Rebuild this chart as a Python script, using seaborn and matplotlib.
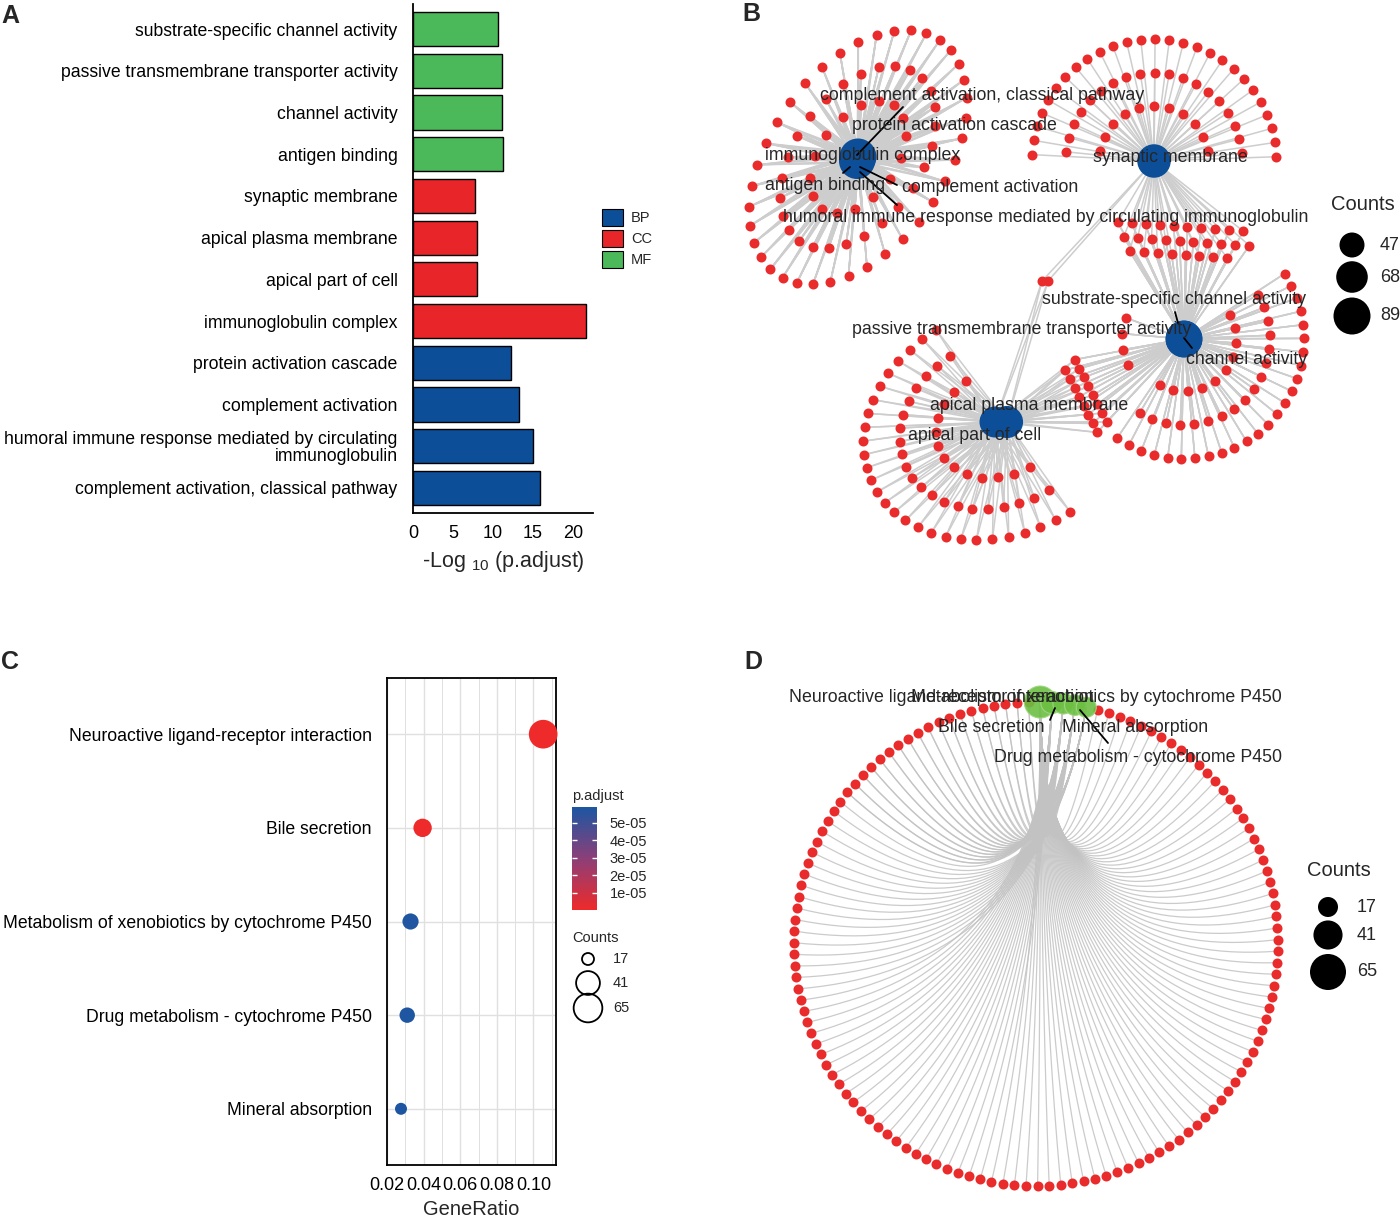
import numpy as np
import pandas as pd
import matplotlib
matplotlib.use("Agg")
import matplotlib.pyplot as plt
import seaborn as sns
from matplotlib.collections import LineCollection
from matplotlib.colors import LinearSegmentedColormap, Normalize
from matplotlib.cm import ScalarMappable
from matplotlib.patches import Patch
from matplotlib.ticker import MultipleLocator, FormatStrFormatter

# ======================= DATA =======================
# Panel A : GO enrichment bar chart
go_terms = ["substrate-specific channel activity",
            "passive transmembrane transporter activity",
            "channel activity",
            "antigen binding",
            "synaptic membrane",
            "apical plasma membrane",
            "apical part of cell",
            "immunoglobulin complex",
            "protein activation cascade",
            "complement activation",
            "humoral immune response mediated by circulating\nimmunoglobulin",
            "complement activation, classical pathway"]
go_ontology = ["MF", "MF", "MF", "MF", "CC", "CC", "CC", "CC", "BP", "BP", "BP", "BP"]
go_neglog10_padj = [10.6, 11.1, 11.1, 11.2, 7.7, 7.95, 7.95, 21.6, 12.2, 13.3, 15.0, 15.9]
ontology_levels = ["BP", "CC", "MF"]

# Panel B : GO cnetplot
cnet_terms = ["complement activation, classical pathway",
              "protein activation cascade",
              "immunoglobulin complex",
              "antigen binding",
              "complement activation",
              "humoral immune response mediated by circulating immunoglobulin",
              "synaptic membrane",
              "substrate-specific channel activity",
              "passive transmembrane transporter activity",
              "channel activity",
              "apical plasma membrane",
              "apical part of cell"]
cnet_hub = ["immuno"] * 6 + ["synaptic"] + ["channel"] * 3 + ["apical"] * 2
cnet_counts = [47, 52, 89, 85, 55, 50, 75, 85, 89, 87, 66, 70]
hub_names = ["immuno", "synaptic", "channel", "apical"]
hub_unique_genes = [80, 57, 56, 62]
shared_pairs = [("synaptic", "channel"), ("apical", "channel"), ("synaptic", "apical")]
shared_gene_counts = [28, 16, 2]
cnet_size_breaks = [47, 68, 89]

# Panel C / D : KEGG enrichment
kegg_terms = ["Neuroactive ligand-receptor interaction",
              "Bile secretion",
              "Metabolism of xenobiotics by cytochrome P450",
              "Drug metabolism - cytochrome P450",
              "Mineral absorption"]
kegg_gene_ratio = [0.1053, 0.0394, 0.0328, 0.0310, 0.0276]
kegg_counts = [65, 24, 20, 19, 17]
kegg_padj = [3.2e-10, 1.5e-07, 5.8e-05, 5.85e-05, 5.9e-05]
kegg_padj_ticks = [1e-05, 2e-05, 3e-05, 4e-05, 5e-05]
kegg_padj_ticklabels = ["1e-05", "2e-05", "3e-05", "4e-05", "5e-05"]
kegg_size_breaks = [17, 41, 65]
# genes of each KEGG term (index of first gene on the circle, number of genes = count)
kegg_gene_start = [0, 65, 106, 107, 89]
kegg_total_genes = 126

# ======================= STYLE / LAYOUT =======================
sns.set_style("white")
plt.rcParams["font.family"] = ["Liberation Sans", "DejaVu Sans"]
plt.rcParams["mathtext.fontset"] = "custom"
plt.rcParams["mathtext.rm"] = "Liberation Sans"
plt.rcParams["mathtext.default"] = "regular"

BLUE = "#0D4E98"
RED = "#E8262A"
GREEN = "#4BB85A"
GENE_RED = "#EA2B2B"
HUB_GREEN = "#6CBF43"
EDGE_GREY = "#CDCDCD"
ont_palette = {"BP": BLUE, "CC": RED, "MF": GREEN}
padj_cmap = LinearSegmentedColormap.from_list("padj", ["#EE2A2A", "#8C3F78", "#1C56A2"])
LABEL_FS = 12.7

W, H = 1400, 1218
fig = plt.figure(figsize=(W / 100, H / 100), dpi=100)


def px_axes(l, t, r, b, **kw):
    return fig.add_axes([l / W, 1 - b / H, (r - l) / W, (b - t) / H], **kw)


def px_s(d):
    """marker diameter in pixels -> scatter area in pt^2"""
    return (d * 72 / 100) ** 2


def allocate(n, weights):
    w = np.asarray(weights, float)
    raw = n * w / w.sum()
    base = np.floor(raw).astype(int)
    rem = n - base.sum()
    order = np.argsort(-(raw - base))
    base[order[:rem]] += 1
    return base


def fan_points(center, n, sectors, ellipse=None):
    cx, cy = center
    counts = allocate(n, [r * abs(a1 - a0) for r, a0, a1 in sectors])
    pts = []
    for k, ((r, a0, a1), m) in enumerate(zip(sectors, counts)):
        if m == 0:
            continue
        if abs(a1 - a0) >= 359:
            t = a0 + (np.arange(m) + 0.5 * (k % 2)) * 360.0 / m
        elif m > 1:
            t = np.linspace(a0, a1, m)
        else:
            t = np.array([(a0 + a1) / 2])
        t = np.radians(t)
        if ellipse is not None:
            a, b, phi = ellipse
            lx, ly = r * a * np.cos(t), r * b * np.sin(t)
            ph = np.radians(phi)
            dx = lx * np.cos(ph) - ly * np.sin(ph)
            dy = lx * np.sin(ph) + ly * np.cos(ph)
        else:
            dx, dy = r * np.cos(t), r * np.sin(t)
        pts += list(zip(cx + dx, cy - dy))
    return pts


def cluster_points(center, n, angle, rows, dcol, drow):
    cx, cy = center
    per_row = int(np.ceil(n / rows))
    a = np.radians(angle)
    pts = []
    for i in range(n):
        row, col = divmod(i, per_row)
        cnt = min(per_row, n - row * per_row)
        u = (col - (cnt - 1) / 2) * dcol + ((row % 2) - 0.5) * 0.5 * dcol * (rows > 1)
        v = ((rows - 1) / 2 - row) * drow
        dx = u * np.cos(a) - v * np.sin(a)
        dy = u * np.sin(a) + v * np.cos(a)
        pts.append((cx + dx, cy - dy))
    return pts


# ---------------------- Panel A ----------------------
axA = px_axes(413, 4, 593, 513)
dfA = pd.DataFrame({"Description": go_terms, "ONTOLOGY": go_ontology,
                    "neglog": go_neglog10_padj})
sns.barplot(data=dfA, x="neglog", y="Description", hue="ONTOLOGY",
            hue_order=ontology_levels, palette=ont_palette, dodge=False,
            saturation=1, width=0.82, edgecolor="black", linewidth=1.0,
            legend=False, orient="h", ax=axA)
axA.set_ylim(11.6, -0.6)
axA.set_xlim(0, 22.5)
axA.set_xticks([0, 5, 10, 15, 20])
axA.set_ylabel("")
axA.set_xlabel("-Log $_{10}$ (p.adjust)", fontsize=15.5, labelpad=5)
for s in ["top", "right"]:
    axA.spines[s].set_visible(False)
for s in ["left", "bottom"]:
    axA.spines[s].set_linewidth(1.3)
    axA.spines[s].set_color("black")
axA.tick_params(axis="both", direction="out", length=4, width=1.2,
                colors="black", labelsize=LABEL_FS, pad=7)
axA.tick_params(axis="x", labelsize=13, pad=5)
for lbl in axA.get_yticklabels():
    lbl.set_linespacing(1.0)

handles = [Patch(facecolor=ont_palette[o], edgecolor="black", linewidth=0.8, label=o)
           for o in ontology_levels]
fig.legend(handles=handles, loc="upper left", bbox_to_anchor=(602 / W, 1 - 209 / H),
           frameon=False, fontsize=10.5, handlelength=1.45, handleheight=1.45,
           handletextpad=0.55, labelspacing=0.25, borderpad=0, borderaxespad=0)

# ---------------------- Panel C ----------------------
axC = px_axes(387, 678, 556, 1165)
dfC = pd.DataFrame({"Description": kegg_terms, "GeneRatio": kegg_gene_ratio,
                    "Count": kegg_counts, "p.adjust": kegg_padj})
c_min, c_max = min(kegg_size_breaks), max(kegg_size_breaks)


def dot_d_C(c):
    return 12 + 16.7 * np.sqrt((c - c_min) / (c_max - c_min))


sizeC = {c: px_s(dot_d_C(c)) for c in sorted(set(kegg_counts))}
padj_norm = Normalize(vmin=0.0, vmax=max(kegg_padj))
sns.scatterplot(data=dfC, x="GeneRatio", y="Description", hue="p.adjust",
                palette=padj_cmap, hue_norm=padj_norm, size="Count", sizes=sizeC,
                legend=False, linewidth=0, ax=axC, zorder=3, clip_on=False)
axC.set_ylim(4.6, -0.6)
axC.set_xlim(0.01995, 0.1123)
axC.xaxis.set_major_locator(MultipleLocator(0.02))
axC.xaxis.set_minor_locator(MultipleLocator(0.01))
axC.xaxis.set_major_formatter(FormatStrFormatter("%.2f"))
axC.set_axisbelow(True)
axC.grid(True, which="major", color="#E0E0E0", linewidth=1.0)
axC.grid(True, which="minor", axis="x", color="#E0E0E0", linewidth=0.7)
axC.tick_params(which="minor", length=0)
axC.tick_params(which="major", direction="out", length=4, width=1.2,
                colors="black", labelsize=LABEL_FS, pad=7)
axC.tick_params(axis="x", labelsize=13, pad=5)
for s in axC.spines.values():
    s.set_linewidth(1.3)
    s.set_color("black")
axC.set_ylabel("")
axC.set_xlabel("GeneRatio", fontsize=14.5, labelpad=4)

cax = px_axes(572, 807, 597, 910)
cb = fig.colorbar(ScalarMappable(norm=padj_norm, cmap=padj_cmap), cax=cax)
cb.outline.set_visible(False)
cb.set_ticks(kegg_padj_ticks)
cb.set_ticklabels(kegg_padj_ticklabels)
cax.tick_params(length=0, labelsize=10.5, pad=9)
cax.hlines(kegg_padj_ticks, 0, 0.2, colors="white", linewidth=1)
cax.hlines(kegg_padj_ticks, 0.8, 1.0, colors="white", linewidth=1)

# ---------------------- Panel B ----------------------
axB = px_axes(740, 0, 1330, 560)

hub_pos = {"immuno": (858, 157), "synaptic": (1154, 161),
           "channel": (1184, 339), "apical": (1001, 422)}
term_offset = [(0, -4), (0, -2), (0, 0), (-1, 4), (1, 5), (0, 6),
               (0, 0), (0, 0), (0, 0), (0, 0), (-6, 0), (6, 0)]
fan_spec = {
    "immuno": dict(sectors=[(0.42, 0, 360), (0.68, 0, 360), (0.95, 0, 360)],
                   ellipse=(150, 92, 55)),
    "synaptic": dict(sectors=[(55, 170, 10), (88, 174, 5), (122, 177, 2)]),
    "channel": dict(sectors=[(52, 28, -118), (86, 31, -121), (120, 33, -124),
                             (62, 160, 205)]),
    "apical": dict(sectors=[(0.45, -78, 96), (0.7, -80, 98), (0.95, -82, 100)],
                   ellipse=(150, 118, 205)),
}
shared_layout = {
    ("synaptic", "channel"): dict(center=(1183, 241), angle=-4, rows=3, dcol=14, drow=14),
    ("apical", "channel"): dict(center=(1086, 396), angle=-63, rows=2, dcol=10, drow=13),
    ("synaptic", "apical"): dict(center=(1045, 281), angle=0, rows=1, dcol=6, drow=0),
}

term_xy = [(hub_pos[h][0] + o[0], hub_pos[h][1] + o[1]) for h, o in zip(cnet_hub, term_offset)]
genes_B = []  # (x, y, hubs)
for h, n in zip(hub_names, hub_unique_genes):
    for p in fan_points(hub_pos[h], n, **fan_spec[h]):
        genes_B.append((p[0], p[1], (h,)))
for pair, n in zip(shared_pairs, shared_gene_counts):
    for p in cluster_points(n=n, **shared_layout[pair]):
        genes_B.append((p[0], p[1], pair))

segs = []
for gx, gy, hubs in genes_B:
    for (tx, ty), th in zip(term_xy, cnet_hub):
        if th in hubs:
            segs.append([(gx, gy), (tx, ty)])
axB.add_collection(LineCollection(segs, colors=EDGE_GREY, linewidths=1.1, zorder=1))

dfBg = pd.DataFrame({"x": [g[0] for g in genes_B], "y": [g[1] for g in genes_B]})
sns.scatterplot(data=dfBg, x="x", y="y", color=GENE_RED, s=px_s(10), linewidth=0,
                ax=axB, zorder=2, clip_on=False, legend=False)
dfBh = pd.DataFrame({"x": [p[0] for p in term_xy], "y": [p[1] for p in term_xy],
                     "Counts": cnet_counts})
B_sizes = (px_s(25), px_s(37))
B_norm = (min(cnet_size_breaks), max(cnet_size_breaks))
sns.scatterplot(data=dfBh, x="x", y="y", size="Counts", sizes=B_sizes, size_norm=B_norm,
                color=BLUE, linewidth=0, ax=axB, zorder=3, clip_on=False, legend=False)
axB.set_xlim(740, 1330)
axB.set_ylim(560, 0)
axB.axis("off")

cnet_label_layout = {
    cnet_terms[0]: (820, 96, [(857, 155), (903, 107)]),
    cnet_terms[1]: (852, 125, None),
    cnet_terms[2]: (765, 155, None),
    cnet_terms[3]: (765, 185, [(850, 167), (843, 173)]),
    cnet_terms[4]: (902, 187, [(860, 167), (897, 185)]),
    cnet_terms[5]: (783, 217, [(860, 172), (897, 205)]),
    cnet_terms[6]: (1093, 157, None),
    cnet_terms[7]: (1042, 300, [(1175, 312), (1178, 323)]),
    cnet_terms[8]: (852, 330, None),
    cnet_terms[9]: (1186, 360, [(1184, 338), (1192, 348)]),
    cnet_terms[10]: (930, 406, None),
    cnet_terms[11]: (908, 435, None),
}
for term in cnet_terms:
    lx, ly, lead = cnet_label_layout[term]
    if lead is not None:
        axB.plot([lead[0][0], lead[1][0]], [lead[0][1], lead[1][1]], color="black",
                 lw=1.3, zorder=4)
    axB.text(lx, ly, term, ha="left", va="center", fontsize=12.8, zorder=5)

# ---------------------- Panel D ----------------------
axD = px_axes(740, 650, 1300, 1218)
cxD, cyD, rD = 1036, 944, 242
n_nodes = len(kegg_terms) + kegg_total_genes
theta = np.radians(90 - 1.0 - np.arange(n_nodes) * 360.0 / n_nodes)
node_x = cxD + rD * np.cos(theta)
node_y = cyD - rD * np.sin(theta)
hub_x, hub_y = node_x[:len(kegg_terms)], node_y[:len(kegg_terms)]
gene_x, gene_y = node_x[len(kegg_terms):], node_y[len(kegg_terms):]

tt = np.linspace(0, 1, 40)[:, None]
curves = []
for j, (start, cnt) in enumerate(zip(kegg_gene_start, kegg_counts)):
    P2 = np.array([hub_x[j], hub_y[j]])
    C = np.array([cxD + 5, cyD + 25])
    for g in range(start, start + cnt):
        P0 = np.array([gene_x[g], gene_y[g]])
        pts = (1 - tt) ** 2 * P0 + 2 * tt * (1 - tt) * C + tt ** 2 * P2
        curves.append(pts)
axD.add_collection(LineCollection(curves, colors="#C2C2C2", linewidths=0.9,
                                  alpha=0.85, zorder=1))
dfDg = pd.DataFrame({"x": gene_x, "y": gene_y})
sns.scatterplot(data=dfDg, x="x", y="y", color=GENE_RED, s=px_s(10), linewidth=0,
                ax=axD, zorder=2, clip_on=False, legend=False)
dfDh = pd.DataFrame({"x": hub_x, "y": hub_y, "Counts": kegg_counts})
sns.scatterplot(data=dfDh, x="x", y="y", size="Counts", sizes=(px_s(20), px_s(32)),
                size_norm=(c_min, c_max), color=HUB_GREEN, alpha=0.9,
                edgecolor="#9FD67F", linewidth=0.8, ax=axD, zorder=3,
                clip_on=False, legend=False)
axD.set_xlim(740, 1300)
axD.set_ylim(1218, 650)
axD.axis("off")

kegg_label_layout = {
    kegg_terms[0]: (789, 697, "left", None),
    kegg_terms[1]: (938, 727, "left", [(1055, 708), (1050, 720)]),
    kegg_terms[2]: (1282, 697, "right", None),
    kegg_terms[3]: (1282, 757, "right", [(1080, 710), (1108, 743)]),
    kegg_terms[4]: (1062, 727, "left", None),
}
for term in kegg_terms:
    lx, ly, ha, lead = kegg_label_layout[term]
    if lead is not None:
        axD.plot([lead[0][0], lead[1][0]], [lead[0][1], lead[1][1]], color="black",
                 lw=1.3, zorder=4)
    axD.text(lx, ly, term, ha=ha, va="center", fontsize=12.8, zorder=5)

# ---------------------- overlay: letters + legends ----------------------
ov = fig.add_axes([0, 0, 1, 1], zorder=10)
for letter, (x, y) in {"A": (1, 4), "B": (742, 2), "C": (1, 650), "D": (744, 650)}.items():
    ov.text(x, y, letter, ha="left", va="top", fontsize=18, fontweight="bold")

# C legends
ov.text(572, 796, "p.adjust", ha="left", va="center", fontsize=10.5)
ov.text(572, 938, "Counts", ha="left", va="center", fontsize=10.5)
legC_y = [959, 983, 1008]
ov.scatter([588] * 3, legC_y, s=[px_s(dot_d_C(c)) for c in kegg_size_breaks],
           facecolors="none", edgecolors="black", linewidths=1.3)
for yv, c in zip(legC_y, kegg_size_breaks):
    ov.text(613, yv, str(c), ha="left", va="center", fontsize=10.5)

# B legend
ov.text(1331, 205, "Counts", ha="left", va="center", fontsize=14.5)
legB_y = [245, 277, 316]
dfLB = pd.DataFrame({"x": [1352] * 3, "y": legB_y, "Counts": cnet_size_breaks})
sns.scatterplot(data=dfLB, x="x", y="y", size="Counts", sizes=B_sizes, size_norm=B_norm,
                color="black", linewidth=0, ax=ov, legend=False, clip_on=False)
for yv, c in zip(legB_y, cnet_size_breaks):
    ov.text(1380, yv, str(c), ha="left", va="center", fontsize=13)

# D legend
ov.text(1307, 870, "Counts", ha="left", va="center", fontsize=14.5)
legD_y = [907, 935, 972]
dfLD = pd.DataFrame({"x": [1328] * 3, "y": legD_y, "Counts": kegg_size_breaks})
sns.scatterplot(data=dfLD, x="x", y="y", size="Counts", sizes=(px_s(20), px_s(36)),
                size_norm=(c_min, c_max), color="black", linewidth=0, ax=ov,
                legend=False, clip_on=False)
for yv, c in zip(legD_y, kegg_size_breaks):
    ov.text(1357, yv, str(c), ha="left", va="center", fontsize=13)
ov.set_xlim(0, W)
ov.set_ylim(H, 0)
ov.axis("off")

fig.savefig("out.png", dpi=100)
